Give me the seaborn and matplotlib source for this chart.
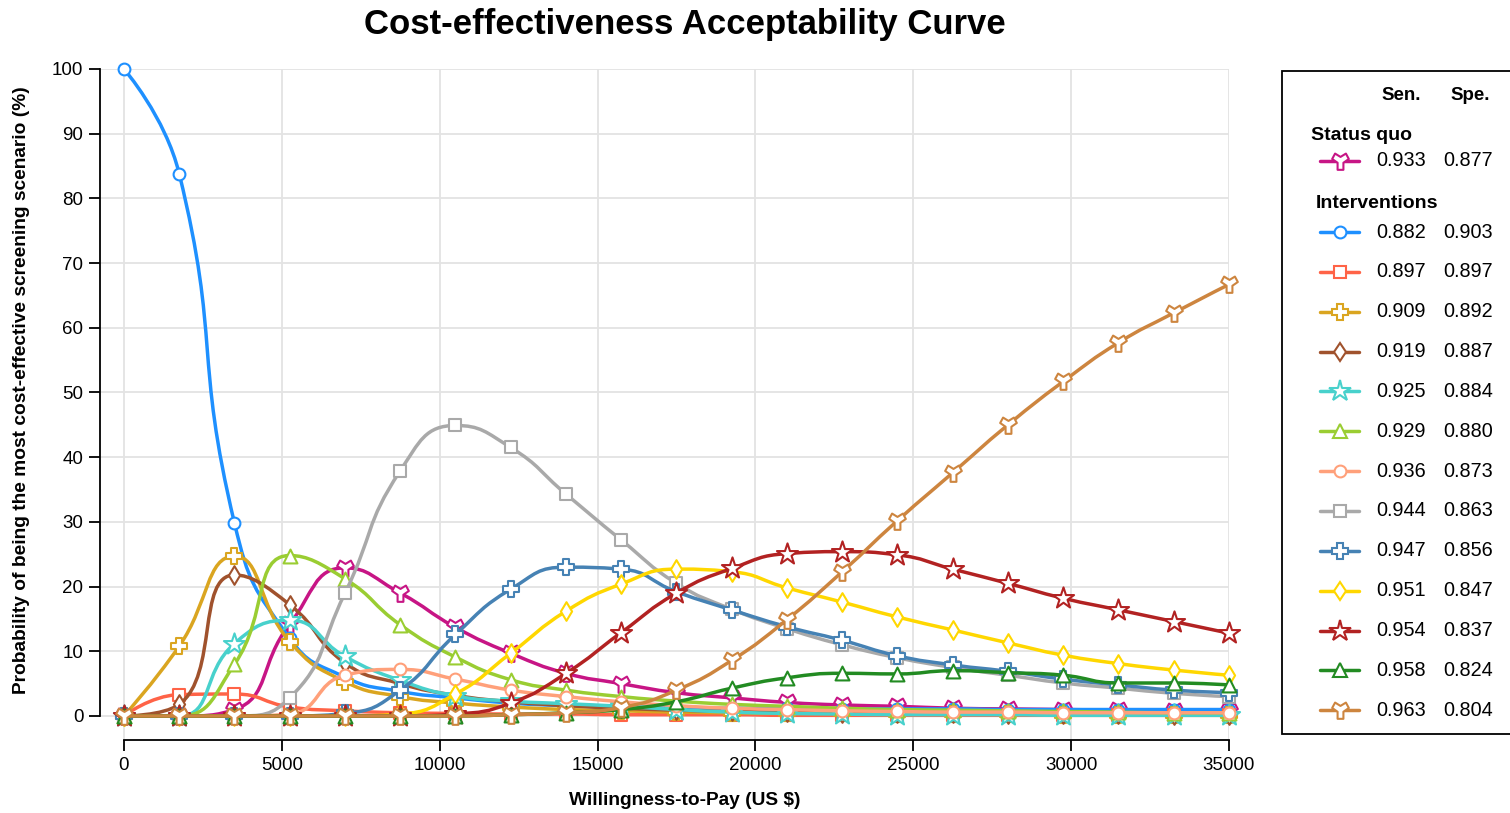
import numpy as np
import pandas as pd
import matplotlib
matplotlib.use("Agg")
import matplotlib.pyplot as plt
import seaborn as sns
from matplotlib.path import Path
from matplotlib.patches import PathPatch, Rectangle
from matplotlib.lines import Line2D

# ---------------- data ----------------
wtp = [0, 1750, 3500, 5250, 7000, 8750, 10500, 12250, 14000, 15750, 17500,
       19250, 21000, 22750, 24500, 26250, 28000, 29750, 31500, 33250, 35000]

status_quo = [0, 0, 1.0, 14.2, 22.9, 19.0, 13.7, 9.7, 6.6, 5.0, 3.6, 2.8, 2.1,
              1.7, 1.5, 1.2, 1.1, 1.0, 0.9, 0.8, 0.8]
s882 = [100, 83.8, 29.8, 12.0, 6.0, 3.8, 2.8, 2.0, 1.6, 1.4, 1.3, 1.2, 1.2,
        1.1, 1.1, 1.1, 1.0, 1.0, 1.0, 1.0, 1.0]
s897 = [0, 3.3, 3.4, 1.4, 0.8, 0.5, 0.4, 0.3, 0.3, 0.2, 0.2, 0.2, 0.1, 0.1,
        0.1, 0.1, 0.1, 0.1, 0.1, 0.1, 0.1]
s909 = [0, 10.8, 24.7, 11.5, 5.3, 3.0, 2.0, 1.4, 1.0, 0.8, 0.6, 0.5, 0.4, 0.4,
        0.3, 0.3, 0.3, 0.2, 0.2, 0.2, 0.2]
s919 = [0, 1.8, 21.8, 17.2, 8.2, 5.0, 3.2, 2.2, 1.6, 1.2, 0.9, 0.7, 0.6, 0.5,
        0.4, 0.4, 0.3, 0.3, 0.3, 0.2, 0.2]
s925 = [0, 0, 11.2, 14.8, 9.2, 5.5, 3.1, 2.3, 1.9, 1.5, 1.0, 0.6, 0.4, 0.3,
        0.2, 0.2, 0.2, 0.1, 0.1, 0.1, 0.1]
s929 = [0, 0, 8.0, 24.8, 21.2, 14.1, 9.1, 5.6, 4.0, 3.0, 2.3, 1.8, 1.5, 1.2,
        1.0, 0.9, 0.8, 0.7, 0.6, 0.5, 0.5]
s936 = [0, 0, 0, 0.3, 6.3, 7.2, 5.7, 4.0, 3.0, 2.2, 1.6, 1.2, 1.0, 0.8, 0.7,
        0.6, 0.6, 0.5, 0.5, 0.5, 0.5]
s944 = [0, 0, 0, 2.8, 19.0, 37.9, 44.9, 41.5, 34.3, 27.2, 20.5, 16.5, 13.5,
        11.0, 9.0, 7.5, 6.3, 5.1, 4.3, 3.5, 3.0]
s947 = [0, 0, 0, 0, 0.4, 4.0, 12.6, 19.6, 23.0, 22.7, 19.2, 16.4, 13.8, 11.7,
        9.3, 7.9, 6.9, 5.7, 4.8, 4.0, 3.6]
s951 = [0, 0, 0, 0, 0, 0.3, 3.4, 9.7, 16.2, 20.4, 22.7, 22.3, 19.8, 17.6,
        15.3, 13.3, 11.3, 9.4, 8.1, 7.1, 6.3]
s954 = [0, 0, 0, 0, 0, 0, 0.3, 2.0, 6.6, 12.9, 19.0, 22.8, 25.1, 25.4, 24.9,
        22.7, 20.5, 18.2, 16.4, 14.6, 12.8]
s958 = [0, 0, 0, 0, 0, 0, 0, 0.2, 0.5, 1.0, 2.2, 4.3, 5.9, 6.6, 6.5, 7.0, 6.7,
        6.3, 5.1, 5.1, 4.8]
s963 = [0, 0, 0, 0, 0, 0, 0, 0.2, 0.5, 1.3, 4.0, 8.6, 14.9, 22.3, 30.2, 37.6,
        45.0, 51.7, 57.7, 62.3, 66.7]

series_values = [status_quo, s882, s897, s909, s919, s925, s929, s936, s944,
                 s947, s951, s954, s958, s963]
sensitivity = ["0.933", "0.882", "0.897", "0.909", "0.919", "0.925", "0.929",
               "0.936", "0.944", "0.947", "0.951", "0.954", "0.958", "0.963"]
specificity = ["0.877", "0.903", "0.897", "0.892", "0.887", "0.884", "0.880",
               "0.873", "0.863", "0.856", "0.847", "0.837", "0.824", "0.804"]
colors = ["#C71585", "#1E90FF", "#FF6347", "#DAA520", "#A0522D", "#48D1CC",
          "#9ACD32", "#FFA07A", "#A9A9A9", "#4682B4", "#FFD700", "#B22222",
          "#228B22", "#CD853F"]
y_ticks = [0, 10, 20, 30, 40, 50, 60, 70, 80, 90, 100]
x_ticks = [0, 5000, 10000, 15000, 20000, 25000, 30000, 35000]

# ---------------- styles ----------------
tooth = Path([(-0.35, -1.0), (0.35, -1.0), (0.35, -0.15), (1.0, 0.3),
              (0.65, 0.95), (0.0, 0.55), (-0.65, 0.95), (-1.0, 0.3),
              (-0.35, -0.15), (-0.35, -1.0)],
             [Path.MOVETO] + [Path.LINETO] * 8 + [Path.CLOSEPOLY])
marker_styles = [(tooth, 12), ("o", 8.5), ("s", 8), ("P", 11.5), ("d", 9.5),
                 ("*", 16), ("^", 10), ("o", 8.5), ("s", 8), ("P", 11.5),
                 ("d", 9.5), ("*", 16), ("^", 10), (tooth, 12)]

sns.set_theme(style="white")
plt.rcParams["font.family"] = ["Liberation Sans", "DejaVu Sans"]
plt.rcParams["text.color"] = "black"
plt.rcParams["axes.labelcolor"] = "black"
plt.rcParams["xtick.color"] = "black"
plt.rcParams["ytick.color"] = "black"

W, H = 1510, 813
fig = plt.figure(figsize=(W / 100, H / 100), dpi=100)
fig.patch.set_facecolor("white")

ax_l, ax_r, ax_t, ax_b = 100, 1229, 69, 740
ax = fig.add_axes([ax_l / W, 1 - ax_b / H, (ax_r - ax_l) / W, (ax_b - ax_t) / H])
ax.set_facecolor("white")
ax.set_xlim(-760, 35000)
ax.set_ylim(-3.71, 100)

# pixel scale for smoothing
sx = (ax_r - ax_l) / (35000 + 760)
sy = (ax_b - ax_t) / (100 + 3.71)


def smooth_path(xs, ys, smooth=0.5):
    P = np.column_stack([np.asarray(xs, float) * sx, np.asarray(ys, float) * sy])
    n = len(P)
    verts = [P[0]]
    codes = [Path.MOVETO]
    cp0 = P[0].copy()
    for k in range(1, n):
        x, y = P[k]
        px_, py_ = P[k - 1]
        if k == n - 1:
            cp1 = P[k].copy()
            ncp0 = P[k].copy()
        else:
            nx, ny = P[k + 1]
            vx, vy = nx - px_, ny - py_
            lp = np.hypot(x - px_, y - py_)
            ln = np.hypot(nx - x, ny - y)
            r = ln / (ln + lp)
            ncx = x + vx * smooth * r
            ncy = y + vy * smooth * r
            ncx = min(ncx, max(nx, x)); ncy = min(ncy, max(ny, y))
            ncx = max(ncx, min(nx, x)); ncy = max(ncy, min(ny, y))
            vx, vy = ncx - x, ncy - y
            c1x = x - vx * lp / ln
            c1y = y - vy * lp / ln
            c1x = min(c1x, max(px_, x)); c1y = min(c1y, max(py_, y))
            c1x = max(c1x, min(px_, x)); c1y = max(c1y, min(py_, y))
            vx, vy = x - c1x, y - c1y
            ncx = x + vx * ln / lp
            ncy = y + vy * ln / lp
            cp1 = np.array([c1x, c1y])
            ncp0 = np.array([ncx, ncy])
        verts += [cp0, cp1, P[k]]
        codes += [Path.CURVE4] * 3
        cp0 = ncp0
    V = np.array(verts) / np.array([sx, sy])
    return Path(V, codes)


# grid
for xt in x_ticks:
    ax.axvline(xt, color="#e3e3e3", lw=1.3, zorder=0.5)
for yt in y_ticks:
    ax.axhline(yt, color="#e3e3e3", lw=1.3, zorder=0.5)

for i, (vals, c, (m, ms)) in enumerate(zip(series_values, colors, marker_styles)):
    patch = PathPatch(smooth_path(wtp, vals), facecolor="none", edgecolor=c,
                      lw=2.5, zorder=2 + 2 * i, capstyle="round", joinstyle="round")
    ax.add_patch(patch)
    df = pd.DataFrame({"wtp": wtp, "prob": vals})
    sns.scatterplot(data=df, x="wtp", y="prob", ax=ax, marker=m, s=ms ** 2,
                    color="white", edgecolor=c, linewidth=1.5,
                    zorder=3 + 2 * i, clip_on=False, legend=False)

# axes styling
for side in ["top", "right"]:
    ax.spines[side].set_visible(False)
for side in ["left", "bottom"]:
    ax.spines[side].set_color("black")
    ax.spines[side].set_linewidth(1.3)
ax.spines["left"].set_bounds(0, 100)
ax.spines["bottom"].set_bounds(0, 35000)
ax.set_xticks(x_ticks)
ax.set_yticks(y_ticks)
ax.set_xticklabels([str(v) for v in x_ticks])
ax.set_yticklabels([str(v) for v in y_ticks])
ax.tick_params(axis="both", which="major", length=8, width=1.3, color="black",
               labelsize=13.5, labelcolor="black", pad=4,
               bottom=True, left=True)
ax.set_xlabel("")
ax.set_ylabel("")

# titles & labels
fig.text(685 / W, 1 - 34 / H, "Cost-effectiveness Acceptability Curve",
         ha="center", va="baseline", fontsize=25, fontweight="bold",
         color="black")
fig.text(685 / W, 1 - 805 / H, "Willingness-to-Pay (US $)",
         ha="center", va="baseline", fontsize=13.8, fontweight="bold",
         color="black")
fig.text(22 / W, 1 - 390 / H,
         "Probability of being the most cost-effective screening scenario (%)",
         ha="center", va="center", rotation=90, fontsize=13.8, fontweight="bold",
         color="black")

# ---------------- legend ----------------
def fx(px):
    return px / W


def fy(py):
    return 1 - py / H


fig.add_artist(Rectangle((fx(1282), fy(734)), fx(1520) - fx(1282), fy(71) - fy(734),
                         transform=fig.transFigure, facecolor="white",
                         edgecolor="black", lw=1.3, clip_on=False))
fig.text(fx(1401), fy(95), "Sen.", ha="center", va="center", fontsize=13.5,
         fontweight="bold")
fig.text(fx(1470), fy(95), "Spe.", ha="center", va="center", fontsize=13.5,
         fontweight="bold")
fig.text(fx(1311), fy(135), "Status quo", ha="left", va="center", fontsize=14,
         fontweight="bold")
fig.text(fx(1316), fy(203), "Interventions", ha="left", va="center", fontsize=14,
         fontweight="bold")

row_y = [161] + [232 + 39.85 * k for k in range(13)]
for i, (c, (m, ms)) in enumerate(zip(colors, marker_styles)):
    yy = row_y[i]
    fig.add_artist(Line2D([fx(1320), fx(1359)], [fy(yy), fy(yy)],
                          transform=fig.transFigure, color=c, lw=2.5))
    fig.add_artist(Line2D([fx(1339.5)], [fy(yy)], transform=fig.transFigure,
                          marker=m, markersize=ms, markerfacecolor="white",
                          markeredgecolor=c, markeredgewidth=1.5, lw=0))
    fig.text(fx(1376), fy(yy), sensitivity[i], ha="left", va="center", fontsize=14.3)
    fig.text(fx(1443), fy(yy), specificity[i], ha="left", va="center", fontsize=14.3)

fig.savefig("out.png", dpi=100, facecolor="white")
